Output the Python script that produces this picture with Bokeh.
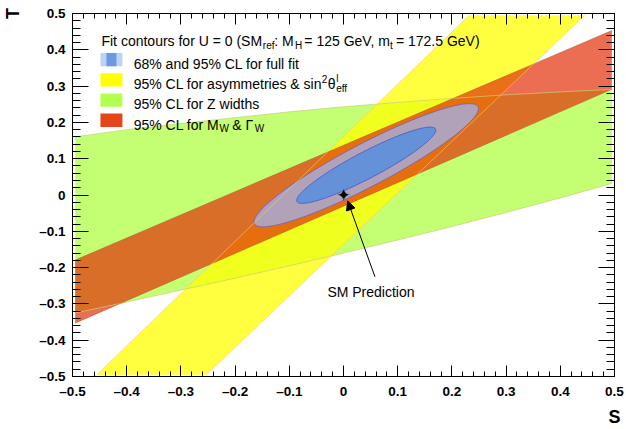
import numpy as np
from bokeh.plotting import figure
from bokeh.models import Range1d, FixedTicker, LinearAxis, Label, BoxAnnotation, Arrow, NormalHead, Title
from bokeh.core.properties import value
from bokeh.embed import file_html
from bokeh.resources import INLINE

# ---------------- data ----------------
S_TICKS = [-0.5, -0.4, -0.3, -0.2, -0.1, 0.0, 0.1, 0.2, 0.3, 0.4, 0.5]
S_TICK_LABELS = ["–0.5", "–0.4", "–0.3", "–0.2", "–0.1", "0", "0.1", "0.2", "0.3", "0.4", "0.5"]
T_TICKS = [-0.5, -0.4, -0.3, -0.2, -0.1, 0.0, 0.1, 0.2, 0.3, 0.4, 0.5]
T_TICK_LABELS = ["–0.5", "–0.4", "–0.3", "–0.2", "–0.1", "0", "0.1", "0.2", "0.3", "0.4", "0.5"]

# 95% CL for Z widths (band edges)
zw_S = [-0.495, -0.4, -0.3, -0.2, -0.1, 0.0, 0.1, 0.2, 0.3, 0.4, 0.495]
zw_T_upper = [0.160, 0.180, 0.197, 0.213, 0.229, 0.243, 0.255, 0.266, 0.276, 0.284, 0.291]
zw_T_lower = [-0.325, -0.295, -0.262, -0.229, -0.195, -0.160, -0.124, -0.087, -0.048, -0.008, 0.032]

# 95% CL for asymmetries & sin2theta_eff (band edges)
asym_left_S = [-0.455, 0.232]
asym_left_T = [-0.495, 0.495]
asym_right_S = [-0.253, 0.445]
asym_right_T = [-0.495, 0.495]

# 95% CL for MW & GammaW (band edges)
mw_S = [-0.495, 0.495]
mw_T_upper = [-0.179, 0.453]
mw_T_lower = [-0.353, 0.291]

# full fit (U = 0)
fit_S0 = 0.042
fit_T0 = 0.082
fit_sigS = 0.0846
fit_sigT = 0.0693
fit_rho = 0.92
DCHI2_68 = 2.30
DCHI2_95 = 5.99

# SM prediction
SM_S = [0.0]
SM_T = [0.0]

# ---------------- geometry helpers (page px -> data) ----------------
FL, FR, FT, FB = 71.0, 614.0, 13.0, 377.0
def dx(xp):
    return -0.5 + (xp - FL) / (FR - FL)
def dy(yp):
    return 0.5 - (yp - FT) / (FB - FT)

p = figure(width=626, height=429, x_range=Range1d(-0.5, 0.5), y_range=Range1d(-0.5, 0.5),
           output_backend="svg", toolbar_location=None,
           min_border_left=71, min_border_right=12, min_border_top=13, min_border_bottom=52,
           background_fill_color="white", border_fill_color="white")
xa = p.below[0]
ya = p.left[0]
p.xgrid.visible = False
p.ygrid.visible = False
p.outline_line_color = "black"
p.outline_line_width = 1

MINOR = [round(-0.5 + 0.02 * i, 2) for i in range(51)]
xticker = FixedTicker(ticks=S_TICKS, minor_ticks=MINOR)
yticker = FixedTicker(ticks=T_TICKS, minor_ticks=MINOR)
FONT = "Liberation Sans"

def style_axis(ax, tick_in, minor_in, labels=True):
    ax.axis_line_color = "black"
    ax.axis_line_width = 1
    ax.major_tick_in = tick_in
    ax.major_tick_out = 0
    ax.minor_tick_in = minor_in
    ax.minor_tick_out = 0
    ax.major_tick_line_color = "black"
    ax.minor_tick_line_color = "black"
    ax.major_label_text_font = FONT
    ax.major_label_text_font_style = "bold"
    ax.major_label_text_font_size = "13.5px"
    ax.major_label_text_color = "black"
    ax.major_label_standoff = 7 if labels else 0

xa.ticker = xticker
xa.major_label_overrides = dict(zip(S_TICKS, S_TICK_LABELS))
style_axis(xa, 11, 5)
ya.ticker = yticker
ya.major_label_overrides = dict(zip(T_TICKS, T_TICK_LABELS))
style_axis(ya, 16, 8)

top = LinearAxis(ticker=xticker, major_label_overrides={v: "" for v in S_TICKS})
style_axis(top, 11, 5, labels=False)
p.add_layout(top, "above")
right = LinearAxis(ticker=yticker, major_label_overrides={v: "" for v in T_TICKS})
style_axis(right, 16, 8, labels=False)
p.add_layout(right, "right")

# axis titles, placed at the axis ends (ROOT style)
try:
    xa.axis_label_align = "end"
    ya.axis_label_align = "end"
    use_axis_titles = True
except Exception:
    use_axis_titles = False

if use_axis_titles:
    xa.axis_label = "S"
    xa.axis_label_standoff = 5
    ya.axis_label = "T"
    ya.axis_label_standoff = 13
    for ax in (xa, ya):
        ax.axis_label_text_font = FONT
        ax.axis_label_text_font_style = "bold"
        ax.axis_label_text_font_size = "18px"
        ax.axis_label_text_color = "black"
else:
    p.add_layout(Title(text="S", align="right", text_font=FONT, text_font_style="bold",
                       text_font_size="18px", text_color="black"), "below")
    p.add_layout(Title(text="T", align="right", text_font=FONT, text_font_style="bold",
                       text_font_size="18px", text_color="black"), "left")

# ---------------- bands ----------------
p.patch(zw_S + zw_S[::-1], zw_T_upper + zw_T_lower[::-1],
        fill_color="#C4FF73", fill_alpha=1.0, line_color=None)
p.patch(asym_left_S + asym_right_S[::-1], asym_left_T + asym_right_T[::-1],
        fill_color="#FFFF00", fill_alpha=0.75, line_color=None)
p.patch(mw_S + mw_S[::-1], mw_T_upper + mw_T_lower[::-1],
        fill_color="#E2300A", fill_alpha=0.7, line_color=None)

# band outlines
p.line(zw_S, zw_T_upper, line_color="#C8D070", line_alpha=0.7, line_width=1)
p.line(zw_S, zw_T_lower, line_color="#C8D070", line_alpha=0.7, line_width=1)
p.line(mw_S, mw_T_upper, line_color="#A05030", line_alpha=0.5, line_width=0.8)
p.line(mw_S, mw_T_lower, line_color="#A05030", line_alpha=0.5, line_width=0.8)

# full fit ellipses
t = np.linspace(0, 2 * np.pi, 361)
def contour(d2):
    r = np.sqrt(d2)
    s = fit_S0 + r * fit_sigS * np.cos(t)
    tt = fit_T0 + r * fit_sigT * (fit_rho * np.cos(t) + np.sqrt(1 - fit_rho ** 2) * np.sin(t))
    return s, tt

s95, t95 = contour(DCHI2_95)
s68, t68 = contour(DCHI2_68)
p.patch(s95, t95, fill_color="#B0A2B9", line_color="#6A60C0", line_width=0.8)
p.patch(s68, t68, fill_color="#6491D7", line_color="#4A50C0", line_width=0.8)

p.line(asym_left_S, asym_left_T, line_color="#FFC860", line_alpha=0.6, line_width=1)
p.line(asym_right_S, asym_right_T, line_color="#FFC860", line_alpha=0.6, line_width=1)

# SM prediction star
p.text(x=SM_S, y=SM_T, text=["✦"], text_font=value("DejaVu Sans"), text_font_size="17px",
       text_align="center", text_baseline="middle", text_color="black")

p.add_layout(Arrow(end=NormalHead(size=9, fill_color="black", line_color="black", line_width=1),
                   x_start=dx(374), y_start=dy(277), x_end=dx(346.7), y_end=dy(201),
                   line_color="black", line_width=1))
p.add_layout(Label(x=dx(370), y=dy(292), text="SM Prediction", text_align="center",
                   text_baseline="alphabetic", text_font=FONT,
                   text_font_size="14px", text_color="black"))

# ---------------- legend ----------------
def txt(xp, yp, s, size="14px"):
    p.add_layout(Label(x=dx(xp), y=dy(yp), text=s, text_align="left",
                       text_baseline="alphabetic", text_font=FONT,
                       text_font_size=size, text_color="black"))

HB = 41.0
txt(100, HB, "Fit contours for U = 0 (SM")
txt(261.7, HB + 4.5, "ref", "10px")
txt(273.0, HB, ": M")
txt(294.0, HB + 4.5, "H", "10px")
txt(303.3, HB, "= 125 GeV, m")
txt(389.0, HB + 4.5, "t", "10px")
txt(395.0, HB, "= 172.5 GeV)")

ROW0 = 52.5
ROWH = 20.3
SW_L, SW_R, SW_H = 99.0, 121.0, 13.4
TX = 132.3

def swatch(i, color, l=SW_L, r=SW_R):
    top_ = ROW0 + i * ROWH
    p.add_layout(BoxAnnotation(left=dx(l), right=dx(r), top=dy(top_), bottom=dy(top_ + SW_H),
                               fill_color=color, fill_alpha=1.0, line_color=None))

swatch(0, "#BCD2F8")
swatch(0, "#6A9BE2", 105.0, 115.0)
swatch(1, "#FFFF00")
swatch(2, "#B3FF50")
swatch(3, "#E64419")

b = [ROW0 + i * ROWH + 11.0 for i in range(4)]
txt(TX, b[0], "68% and 95% CL for full fit")
txt(TX, b[1], "95% CL for asymmetries & sin")
txt(320.8, b[1] - 5.5, "2", "10px")
txt(326.8, b[1], "θ")
txt(335.2, b[1] - 6.0, "l", "10px")
txt(335.2, b[1] + 4.0, "eff", "10px")
txt(TX, b[2], "95% CL for Z widths")
txt(TX, b[3], "95% CL for M")
txt(218.2, b[3] + 4.0, "W", "10px")
txt(231.0, b[3], "& Γ")
txt(253.5, b[3] + 4.0, "W", "10px")

open("out.html", "w").write(file_html(p, INLINE))
